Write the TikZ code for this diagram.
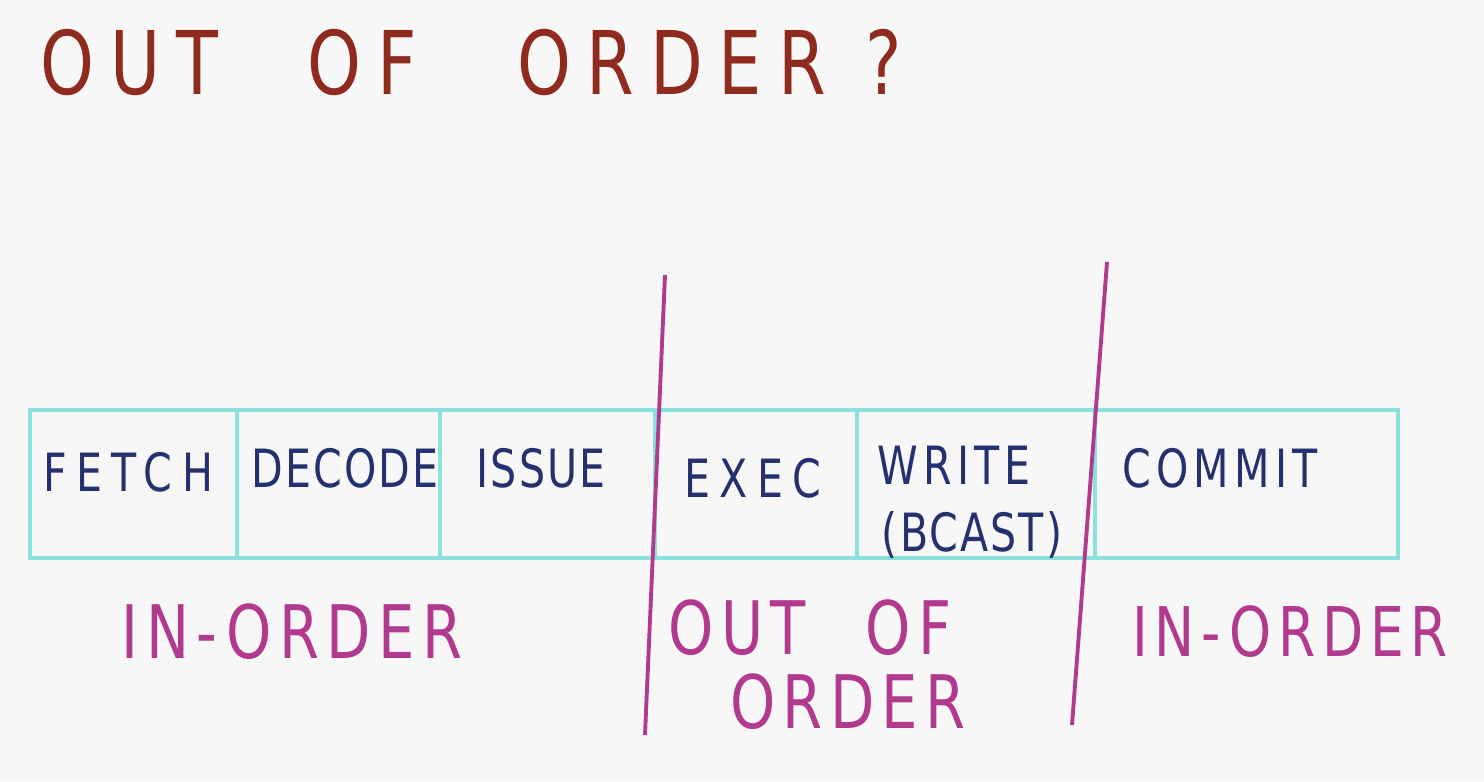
\documentclass[tikz,border=0pt]{standalone}
\usepackage{fontspec}
\newfontfamily\hand{DejaVu Sans}[FakeStretch=0.78,LetterSpace=18]
\newfontfamily\handmid{DejaVu Sans}[FakeStretch=0.78,LetterSpace=10]
\newfontfamily\handtight{DejaVu Sans}[FakeStretch=0.78,LetterSpace=4]
\usetikzlibrary{positioning}
\definecolor{paper}{HTML}{F7F7F8}
\definecolor{inkred}{HTML}{8E2B1E}
\definecolor{navyink}{HTML}{25306F}
\definecolor{cyanink}{HTML}{8AE2DF}
\definecolor{pinkink}{HTML}{B23A8E}

\begin{document}
\begin{tikzpicture}[
node distance=0pt,
cell/.style={draw=cyanink,line width=1pt,minimum height=14.8mm,inner sep=0pt,outer sep=0pt},
stagetxt/.style={font=\hand\fontsize{15}{19}\selectfont,text=navyink,align=center},
regiontxt/.style={font=\handmid\fontsize{21}{21}\selectfont,text=pinkink,align=center},
divider/.style={draw=pinkink,line width=1.1pt}
]
\fill[paper] (0,0) rectangle (14.84,7.81);

% title
\node[font=\hand\fontsize{25}{30}\selectfont,text=inkred,anchor=west] (title) at (0.28,7.18)
  {OUT\hspace{9mm}OF\hspace{10mm}ORDER\hspace{4mm}?};

% pipeline cells
\node[cell,minimum width=20.7mm] (fetch) at (1.335,2.97) {};
\node[cell,minimum width=20.3mm,right=of fetch] (decode) {};
\node[cell,minimum width=21.5mm,right=of decode] (issue) {};
\node[cell,minimum width=20.2mm,right=of issue] (exec) {};
\node[cell,minimum width=23.8mm,right=of exec] (write) {};
\node[cell,minimum width=30.3mm,right=of write] (commit) {};

\node[stagetxt] (fetch-txt) at (1.28,3.09) {FETCH};
\node[stagetxt,font=\handtight\fontsize{15}{19}\selectfont] (decode-txt) at (3.45,3.13) {DECODE};
\node[stagetxt,font=\handtight\fontsize{15}{19}\selectfont] (issue-txt) at (5.41,3.13) {ISSUE};
\node[stagetxt] (exec-txt) at (7.53,3.03) {EXEC};
\node[stagetxt] (write-txt) at (9.54,2.79) {{\handmid WRITE}\\\hspace*{3.6mm}{\handtight (BCAST)}};
\node[stagetxt,font=\handmid\fontsize{15}{19}\selectfont] (commit-txt) at (12.20,3.13) {COMMIT};

% in-order / out-of-order split
\coordinate (split1-top) at (6.65,5.06);
\coordinate (split1-bot) at (6.45,0.46);
\coordinate (split2-top) at (11.07,5.19);
\coordinate (split2-bot) at (10.72,0.56);
\draw[divider] (split1-top) -- (split1-bot);
\draw[divider] (split2-top) -- (split2-bot);

\node[regiontxt] (inorder-l) at (2.92,1.49) {IN-ORDER};
\node[regiontxt] (ooo) at (8.10,1.16) {OUT\hspace{6mm}OF\\\hspace*{7.6mm}ORDER};
\node[regiontxt,font=\handmid\fontsize{19.5}{21}\selectfont] (inorder-r) at (12.90,1.49) {IN-ORDER};
\end{tikzpicture}
\end{document}
